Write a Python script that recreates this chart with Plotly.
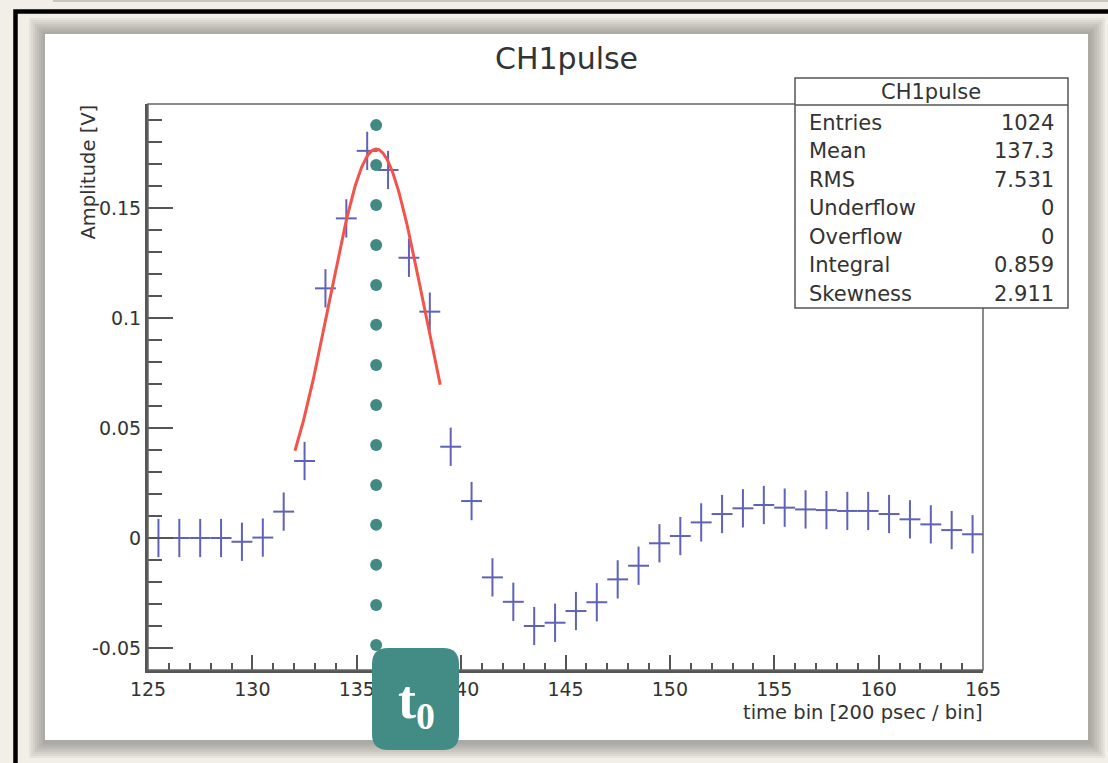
import numpy as np
import plotly.graph_objects as go

# ---------------- data ----------------
bin_centers = [125.5, 126.5, 127.5, 128.5, 129.5, 130.5, 131.5, 132.5, 133.5, 134.5,
               135.5, 136.5, 137.5, 138.5, 139.5, 140.5, 141.5, 142.5, 143.5, 144.5,
               145.5, 146.5, 147.5, 148.5, 149.5, 150.5, 151.5, 152.5, 153.5, 154.5,
               155.5, 156.5, 157.5, 158.5, 159.5, 160.5, 161.5, 162.5, 163.5, 164.5]
amplitudes = [0.0, 0.0, 0.0, 0.0, -0.0017, 0.0002, 0.012, 0.035, 0.1135, 0.1453,
              0.176, 0.1673, 0.1274, 0.1029, 0.0415, 0.0168, -0.0179, -0.029, -0.040, -0.0385,
              -0.0332, -0.0292, -0.0188, -0.0126, -0.0024, 0.0009, 0.0071, 0.0109, 0.0135, 0.015,
              0.0138, 0.013, 0.0127, 0.0123, 0.0123, 0.0109, 0.0085, 0.0062, 0.0036, 0.0017]
amp_err = [0.0087] * len(bin_centers)
bin_half_width = [0.5] * len(bin_centers)

# Gaussian fit parameters (TF1 "gaus")
fit_const = 0.1768
fit_mean = 135.93
fit_sigma = 2.25
fit_range = [132.04, 139.0]

x_tickvals = [125, 130, 135, 140, 145, 150, 155, 160, 165]
x_ticktext = ["125", "130", "135", "140", "145", "150", "155", "160", "165"]
y_tickvals = [-0.05, 0.0, 0.05, 0.1, 0.15]
y_ticktext = ["-0.05", "0", "0.05", "0.1", "0.15"]

stats_labels = ["Entries", "Mean", "RMS", "Underflow", "Overflow", "Integral", "Skewness"]
stats_values = ["1024", "137.3", "7.531", "0", "0", "0.859", "2.911"]

t0_marker_y = [-0.0486, -0.0304, -0.0122, 0.0060, 0.0241, 0.0423, 0.0605,
               0.0787, 0.0969, 0.1150, 0.1332, 0.1514, 0.1696, 0.1877]

# ---------------- geometry helpers ----------------
W, H = 1108, 763
L, R, T, B = 148, 983, 104, 670


def px(x):
    return (x - L) / (R - L)


def py(y):
    return (B - y) / (B - T)


FONT = "DejaVu Sans, Liberation Sans, Arial, sans-serif"
TXT = "#333333"
AX = "#555555"

fig = go.Figure()

fig.add_trace(go.Scatter(
    x=bin_centers, y=amplitudes, mode="markers",
    marker=dict(size=1, color="rgba(0,0,0,0)"),
    error_y=dict(type="data", array=amp_err, visible=True, width=0,
                 thickness=2, color="#5f62b8"),
    error_x=dict(type="data", array=bin_half_width, visible=True, width=0,
                 thickness=2, color="#5f62b8"),
    showlegend=False, hoverinfo="x+y"))

xf = np.linspace(fit_range[0], fit_range[1], 200)
yf = fit_const * np.exp(-0.5 * ((xf - fit_mean) / fit_sigma) ** 2)
fig.add_trace(go.Scatter(x=xf, y=yf, mode="lines",
                         line=dict(color="#f2534a", width=3), showlegend=False))

fig.add_trace(go.Scatter(x=[fit_mean] * len(t0_marker_y), y=t0_marker_y, mode="markers",
                         marker=dict(size=12, color="#418a84"), showlegend=False,
                         cliponaxis=False))

shapes = []
# thin line at very top
shapes.append(dict(type="line", xref="paper", yref="paper", layer="below",
                   x0=px(53), x1=px(1110), y0=py(1), y1=py(1),
                   line=dict(color="#c8c6c0", width=2)))
# black slide frame
shapes.append(dict(type="rect", xref="paper", yref="paper", layer="below",
                   x0=px(15.5), x1=px(1125), y0=py(11.5), y1=py(790),
                   line=dict(color="#000000", width=4.5)))
# canvas shadow / bevel (smooth gradient)
bevel_cols = ["#e6e3dd", "#dcd9d3", "#d3d0ca", "#cac7c1", "#c1bfb9", "#b9b7b1",
              "#b2b0aa", "#acaaa4"]
for i, col in enumerate(bevel_cols):
    a = 29 + i * 2
    b = 18 + i * 2
    c = 1105 - i * 2
    d = 758 - i * 2
    shapes.append(dict(type="rect", xref="paper", yref="paper", layer="below",
                       x0=px(a), x1=px(c), y0=py(b), y1=py(d),
                       line=dict(width=0), fillcolor=col))
shapes.append(dict(type="rect", xref="paper", yref="paper", layer="below",
                   x0=px(45), x1=px(1088), y0=py(34), y1=py(740),
                   line=dict(width=0), fillcolor="#ffffff"))
# frame (top/right thin)
shapes.append(dict(type="rect", xref="paper", yref="paper", layer="above",
                   x0=0, x1=1, y0=0, y1=1, line=dict(color="#666666", width=1.5)))
# stats box
shapes.append(dict(type="rect", xref="paper", yref="paper", layer="above",
                   x0=px(795), x1=px(1068), y0=py(78), y1=py(308),
                   line=dict(color="#555555", width=1.5), fillcolor="#ffffff"))
shapes.append(dict(type="line", xref="paper", yref="paper", layer="above",
                   x0=px(795), x1=px(1068), y0=py(105), y1=py(105),
                   line=dict(color="#555555", width=1.5)))
# t0 rounded box
x0b, x1b, y0b, y1b, rr = 372, 459, 648, 750, 16
path = (f"M {px(x0b + rr)},{py(y0b)} L {px(x1b - rr)},{py(y0b)} "
        f"Q {px(x1b)},{py(y0b)} {px(x1b)},{py(y0b + rr)} "
        f"L {px(x1b)},{py(y1b - rr)} Q {px(x1b)},{py(y1b)} {px(x1b - rr)},{py(y1b)} "
        f"L {px(x0b + rr)},{py(y1b)} Q {px(x0b)},{py(y1b)} {px(x0b)},{py(y1b - rr)} "
        f"L {px(x0b)},{py(y0b + rr)} Q {px(x0b)},{py(y0b)} {px(x0b + rr)},{py(y0b)} Z")
shapes.append(dict(type="path", xref="paper", yref="paper", layer="above",
                   path=path, fillcolor="#438c86", line=dict(width=0)))

annotations = []
annotations.append(dict(text="CH1pulse", xref="paper", yref="paper",
                        x=px(566), y=py(58), xanchor="center", yanchor="middle",
                        showarrow=False, font=dict(family=FONT, size=30, color=TXT)))
annotations.append(dict(text="Amplitude [V]", xref="paper", yref="paper",
                        x=px(88), y=py(103), xanchor="center", yanchor="top", textangle=-90,
                        showarrow=False, font=dict(family=FONT, size=19.5, color=TXT)))
annotations.append(dict(text="time bin [200 psec / bin]", xref="paper", yref="paper",
                        x=px(985), y=py(712), xanchor="right", yanchor="middle",
                        showarrow=False, font=dict(family=FONT, size=19.5, color=TXT)))
annotations.append(dict(text="CH1pulse", xref="paper", yref="paper",
                        x=px(931), y=py(92), xanchor="center", yanchor="middle",
                        showarrow=False, font=dict(family=FONT, size=21, color=TXT)))
row_y = [123, 151, 180, 208, 237, 265, 294]
for lab, val, yy in zip(stats_labels, stats_values, row_y):
    annotations.append(dict(text=lab, xref="paper", yref="paper", x=px(807), y=py(yy),
                            xanchor="left", yanchor="middle", showarrow=False,
                            font=dict(family=FONT, size=21, color=TXT)))
    annotations.append(dict(text=val, xref="paper", yref="paper", x=px(1056), y=py(yy),
                            xanchor="right", yanchor="middle", showarrow=False,
                            font=dict(family=FONT, size=21, color=TXT)))
annotations.append(dict(text="<b>t<sub>0</sub></b>", xref="paper", yref="paper",
                        x=px(416), y=py(703), xanchor="center", yanchor="middle",
                        showarrow=False,
                        font=dict(family="Liberation Serif, Times New Roman, serif",
                                  size=54, color="#ffffff")))

fig.update_layout(
    width=W, height=H, autosize=False,
    margin=dict(l=L, r=W - R, t=T, b=H - B, pad=0),
    paper_bgcolor="#f2efe9", plot_bgcolor="#ffffff",
    showlegend=False, shapes=shapes, annotations=annotations,
    xaxis=dict(range=[125, 165], tickmode="array", tickvals=x_tickvals, ticktext=x_ticktext,
               ticks="inside", ticklen=15, tickwidth=2, tickcolor=AX,
               showline=True, linecolor=AX, linewidth=3, showgrid=False, zeroline=False,
               tickfont=dict(family=FONT, size=19, color=TXT),
               minor=dict(ticks="inside", ticklen=7, tickwidth=1.5, tickcolor=AX,
                          tick0=125, dtick=1, showgrid=False)),
    yaxis=dict(range=[-0.06, 0.1973], tickmode="array", tickvals=y_tickvals, ticktext=y_ticktext,
               ticks="inside", ticklen=25, tickwidth=2, tickcolor=AX,
               showline=True, linecolor=AX, linewidth=3, showgrid=False, zeroline=False,
               tickfont=dict(family=FONT, size=19, color=TXT),
               minor=dict(ticks="inside", ticklen=14, tickwidth=1.5, tickcolor=AX,
                          tick0=0, dtick=0.01, showgrid=False)),
)

fig.write_html("out.html")
